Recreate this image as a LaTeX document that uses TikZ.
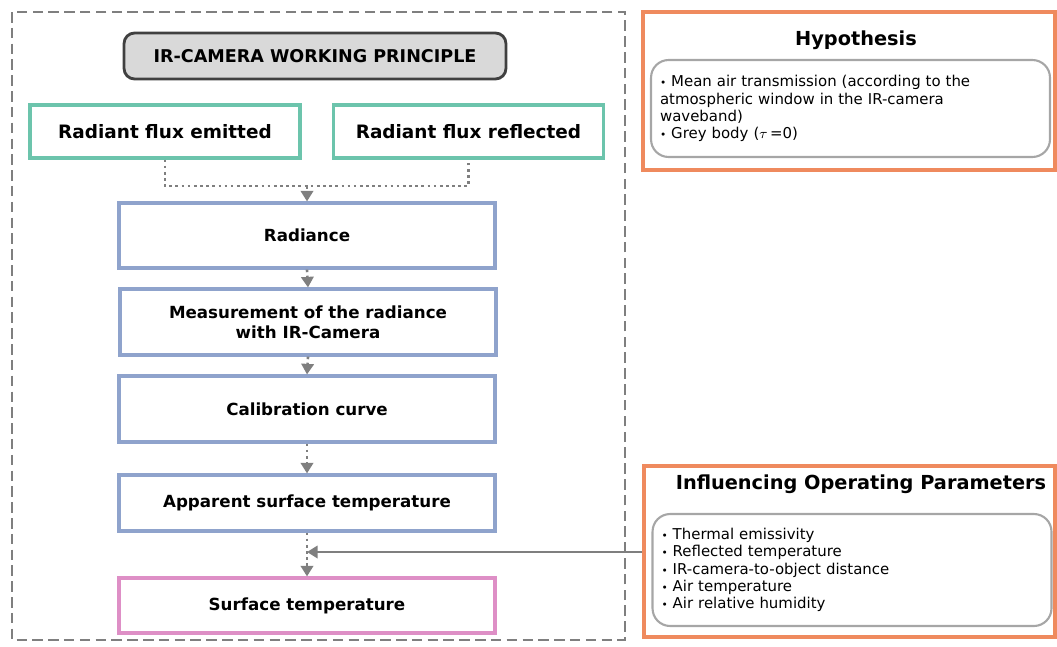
\documentclass[tikz,border=0pt]{standalone}
\usepackage{fontspec}
\setmainfont{DejaVu Sans}
\usepackage{tikz}
\usetikzlibrary{positioning,arrows.meta}
\definecolor{palTeal}{HTML}{6CC4AC}
\definecolor{palBlue}{HTML}{8FA3CC}
\definecolor{palPink}{HTML}{DE8FC6}
\definecolor{palOrange}{HTML}{EF8A5E}
\definecolor{palGray}{HTML}{7F7F7F}
\definecolor{palGrayDk}{HTML}{404040}
\definecolor{palGrayLt}{HTML}{D9D9D9}
\definecolor{palGrayMd}{HTML}{A6A6A6}
\newcommand{\itemdot}{{\fontsize{6}{6}\selectfont•}\ }
\tikzset{
  titlenode/.style={draw=palGrayDk, fill=palGrayLt, rounded corners=6pt,
                    line width=1.6pt, minimum width=7.64cm, minimum height=0.92cm,
                    font=\fontsize{10}{11}\selectfont\bfseries},
  fluxnode/.style={draw=palTeal, line width=1.8pt, minimum width=5.4cm,
                   minimum height=1.06cm, font=\fontsize{10.5}{12}\selectfont\bfseries},
  stepnode/.style={draw=palBlue, line width=1.8pt, minimum width=7.52cm,
                   minimum height=1.3cm, align=center,
                   font=\fontsize{9.5}{11.5}\selectfont\bfseries},
  resultnode/.style={stepnode, draw=palPink},
  panelnode/.style={draw=palOrange, line width=2pt, minimum width=8.22cm},
  paneltitle/.style={font=\fontsize{11}{13}\selectfont\bfseries},
  listnode/.style={draw=palGrayMd, rounded corners=10pt, line width=1.2pt,
                   inner xsep=0.18cm, text width=7.62cm, align=left,
                   font=\fontsize{8.5}{9.8}\selectfont},
  workframe/.style={palGray, line width=1.3pt, dash pattern=on 6pt off 3pt},
  dotline/.style={dotted, palGray, line width=1.5pt},
  dotarrow/.style={dotline, -{Triangle[length=6pt, width=7pt]}},
  feedarrow/.style={palGray, line width=1.4pt, -{Triangle[length=6pt, width=7pt]}},
}

\begin{document}
\begin{tikzpicture}[x=0.02cm, y=-0.02cm]
\useasboundingbox (0,0) rectangle (1057,646);

%% Working principle frame
\draw[workframe] (12,12) rectangle (625,640);
\node[titlenode] (title) at (315,56) {IR-CAMERA WORKING PRINCIPLE};

%% Radiant fluxes
\node[fluxnode] (emitted)   at (165,131.5)   {Radiant flux emitted};
\node[fluxnode] (reflected) at (468.5,131.5) {Radiant flux reflected};

%% Chain of steps
\node[stepnode] (radiance) at (307,235.5) {Radiance};
\node[stepnode, minimum height=1.32cm] (measure) at (308,322)
  {Measurement of the radiance\\with IR-Camera};
\node[stepnode, minimum height=1.32cm] (calib) at (307,409) {Calibration curve};
\node[stepnode, minimum height=1.12cm] (apparent) at (307,503)
  {Apparent surface temperature};
\node[resultnode, minimum height=1.1cm] (surface) at (307,605.5)
  {Surface temperature};

%% Connectors
\coordinate (join)  at (307,186);
\coordinate (merge) at (307,552);
\draw[dotline] (emitted.south) |- (join) -| (reflected.south);
\draw[dotarrow] (join) -- (radiance.north);
\draw[dotarrow] (radiance.south) -- (measure.north);
\draw[dotarrow] (measure.south) -- (calib.north);
\draw[dotarrow] (calib.south) -- (apparent.north);
\draw[dotarrow] (apparent.south) -- (surface.north);

%% Hypothesis panel
\node[panelnode, minimum width=8.24cm, minimum height=3.16cm] (hypframe) at (849,91) {};
\node[paneltitle] (hyptitle) at (856,40) {Hypothesis};
\node[listnode, minimum height=1.94cm] (hyplist) at (850.5,108.5)
  {\itemdot Mean air transmission (according to the\\
   atmospheric window in the IR-camera\\
   waveband)\\
   \itemdot Grey body ($\tau$\,=0)};

%% Influencing parameters panel
\node[panelnode, minimum height=3.42cm] (inflframe) at (849.5,551.5) {};
\node[paneltitle] (infltitle) at (861,484) {Influencing Operating Parameters};
\node[listnode, minimum height=2.24cm] (infllist) at (852,570)
  {\itemdot Thermal emissivity\\
   \itemdot Reflected temperature\\
   \itemdot IR-camera-to-object distance\\
   \itemdot Air temperature\\
   \itemdot Air relative humidity};
\draw[feedarrow] (inflframe.west |- merge) -- (merge);
\end{tikzpicture}
\end{document}
